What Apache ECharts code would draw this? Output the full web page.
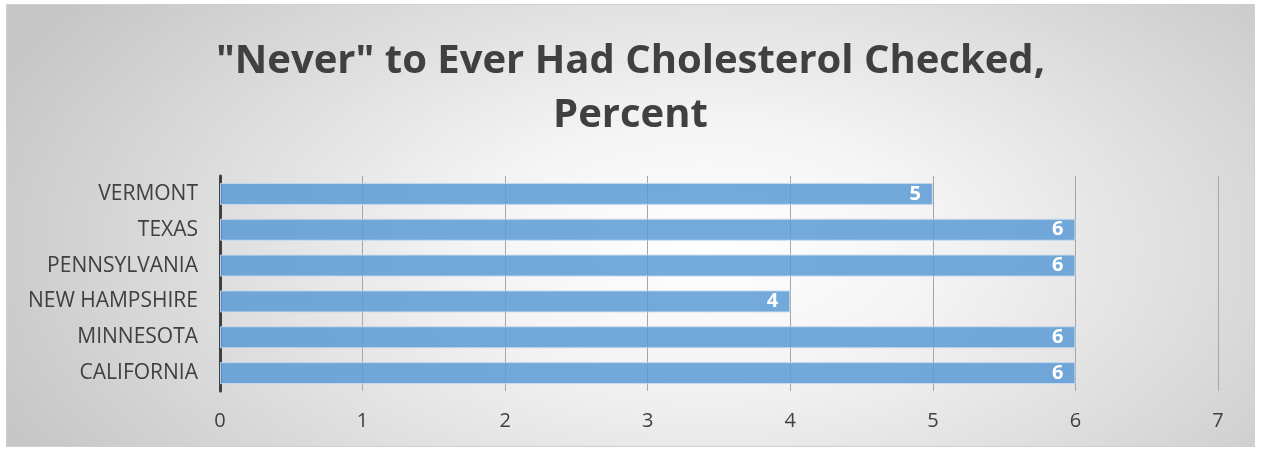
<!DOCTYPE html>
<html>
<head>
<meta charset="utf-8">
<script src="https://cdn.jsdelivr.net/npm/echarts@6/dist/echarts.min.js"></script>
<style>
  html, body { margin: 0; padding: 0; background: #ffffff; }
  #frame {
    position: absolute; left: 6px; top: 4px; width: 1249px; height: 443px;
    border: 1px solid #d0d0d0; box-sizing: border-box;
    background: radial-gradient(ellipse 62% 95% at 56% 55%, #ffffff 0%, #f4f4f4 30%, #c6c6c6 100%);
  }
  #chart { width: 100%; height: 100%; }
</style>
</head>
<body>
<div id="frame"><div id="chart"></div></div>
<script>
// States listed bottom-to-top as drawn on the category axis
const states = ['CALIFORNIA', 'MINNESOTA', 'NEW HAMPSHIRE', 'PENNSYLVANIA', 'TEXAS', 'VERMONT'];
const percentNever = [6, 6, 4, 6, 6, 5];
const xTicks = [0, 1, 2, 3, 4, 5, 6, 7];

const chart = echarts.init(document.getElementById('chart'));
const textColor = '#404040';
const font = '"Open Sans", "Noto Sans", sans-serif';

chart.setOption({
  backgroundColor: 'transparent',
  animation: false,
  title: {
    text: '"Never" to Ever Had Cholesterol Checked,\nPercent',
    left: 'center',
    top: 25,
    textStyle: {
      color: textColor, fontFamily: font, fontWeight: 'bold',
      fontSize: 40, lineHeight: 54
    }
  },
  grid: { left: 213, right: 36, top: 171, bottom: 55 },
  xAxis: {
    type: 'value',
    min: xTicks[0],
    max: xTicks[xTicks.length - 1],
    interval: 1,
    axisLine: { show: false },
    axisTick: { show: false },
    splitLine: { show: true, lineStyle: { color: '#a6a6a6', width: 1 } },
    axisLabel: { color: textColor, fontFamily: font, fontSize: 20, margin: 20 }
  },
  yAxis: {
    type: 'category',
    data: states,
    axisLine: { show: true, lineStyle: { color: '#404040', width: 3 } },
    axisTick: { show: false },
    axisLabel: { color: textColor, fontFamily: font, fontSize: 21, margin: 22 }
  },
  series: [{
    type: 'bar',
    data: percentNever,
    barWidth: 22,
    itemStyle: {
      color: 'rgba(91,155,213,0.85)',
      borderColor: 'rgba(200,220,240,0.9)',
      borderWidth: 1
    },
    label: {
      show: true,
      position: 'insideRight',
      distance: 12,
      color: '#ffffff',
      fontFamily: font,
      fontWeight: 'bold',
      fontSize: 20
    }
  }]
});
</script>
</body>
</html>
